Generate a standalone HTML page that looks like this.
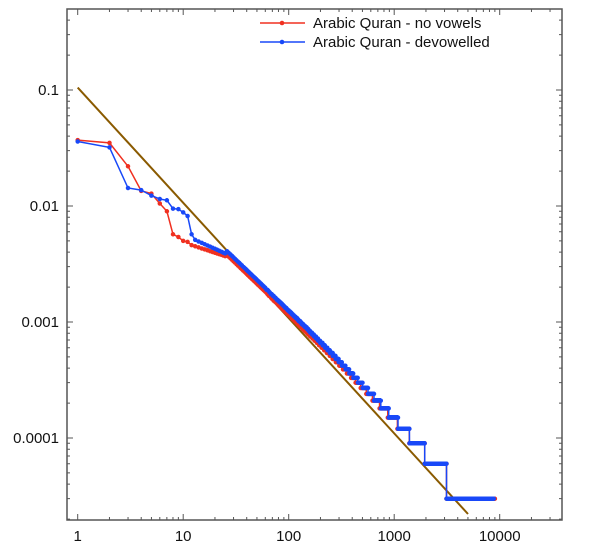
<!DOCTYPE html>
<html><head><meta charset="utf-8"><style>
html,body{margin:0;padding:0;background:#fff;}
svg{display:block;font-family:"Liberation Sans",sans-serif;}
</style></head><body>
<svg id="s" width="600" height="554" xmlns="http://www.w3.org/2000/svg"></svg>
<script>
var s=document.getElementById('s');var NS='http://www.w3.org/2000/svg';
function el(t,a,txt){var e=document.createElementNS(NS,t);for(var k in a)e.setAttribute(k,a[k]);if(txt!==undefined)e.textContent=txt;s.appendChild(e);return e;}
function px(r){return 77.7+105.5*Math.log10(r);}
function py(f){return 90-116*(Math.log10(f)+1);}
var L=67,R=562,T=9,B=520;
var d='';
for(var e=0;e<=4;e++){for(var m=1;m<10;m++){var v=m*Math.pow(10,e);var x=px(v);if(x<L||x>R)continue;var len=m==1?6:3;d+='M'+x+' '+B+'v-'+len+'M'+x+' '+T+'v'+len;}}
for(var e=-5;e<=-1;e++){for(var m=1;m<10;m++){var v=m*Math.pow(10,e);var y=py(v);if(y<T||y>B)continue;var len=m==1?6:3;d+='M'+L+' '+y+'h'+len+'M'+R+' '+y+'h-'+len;}}
el('path',{d:d,stroke:'#555','stroke-width':1,fill:'none'});
el('rect',{x:L,y:T,width:R-L,height:B-T,fill:'none',stroke:'#555','stroke-width':1.5});
var xl=[['1',1],['10',10],['100',100],['1000',1000],['10000',10000]];
xl.forEach(function(a){el('text',{x:px(a[1]),y:541,'font-size':15,'text-anchor':'middle',fill:'#111'},a[0]);});
var yl=[['0.1',0.1],['0.01',0.01],['0.001',0.001],['0.0001',0.0001]];
yl.forEach(function(a){el('text',{x:59,y:py(a[1])+5,'font-size':15,'text-anchor':'end',fill:'#111'},a[0]);});
el('line',{x1:px(1),y1:py(0.105),x2:468,y2:514,stroke:'#8a5a00','stroke-width':2});
var N=33333;
function series(head,mid,maxr,color,bump){
  var pts=[];var H=head.length;
  for(var r=1;r<=maxr;r++){
    var f;
    if(r<=H)f=head[r-1];
    else if(r<=25){var a=mid[0],b=mid[1];var t=(Math.log(r)-Math.log(H))/(Math.log(25)-Math.log(H));f=Math.exp(Math.log(a)*(1-t)+Math.log(b)*t);}
    else{var bb=r<150?bump:(r<1500?1+(bump-1)*(Math.log(1500/r)/Math.log(10)):1);f=0.0023*Math.pow(r/46,-0.87)*bb;}
    if(r>60){f=Math.floor(f*N+0.05)/N;if(f<1/N)f=1/N;}
    pts.push([px(r),py(f)]);
  }
  var p='M'+pts.map(function(q){return q[0].toFixed(1)+' '+q[1].toFixed(1);}).join('L');
  el('path',{d:p,stroke:color,'stroke-width':1.5,fill:'none'});
  var c='';pts.forEach(function(q){c+='M'+q[0].toFixed(1)+' '+q[1].toFixed(1)+'h0';});
  el('path',{d:c,stroke:color,'stroke-width':4.5,'stroke-linecap':'round',fill:'none'});
}
series([0.037,0.035,0.022,0.0135,0.0128,0.0105,0.009,0.0057,0.0054,0.005,0.0049,0.0046],[0.0046,0.0037],9000,'#f03020',1.0);
series([0.036,0.032,0.0143,0.0137,0.0123,0.0115,0.0112,0.0095,0.0094,0.0088,0.0082,0.0057,0.0051],[0.0051,0.0039],8800,'#1848f8',1.08);
el('line',{x1:260,y1:23,x2:305,y2:23,stroke:'#f03020','stroke-width':1.5});
el('circle',{cx:282,cy:23,r:2.3,fill:'#f03020'});
el('line',{x1:260,y1:42,x2:305,y2:42,stroke:'#1848f8','stroke-width':1.5});
el('circle',{cx:282,cy:42,r:2.3,fill:'#1848f8'});
el('text',{x:313,y:28,'font-size':15,fill:'#111'},'Arabic Quran - no vowels');
el('text',{x:313,y:47,'font-size':15,fill:'#111'},'Arabic Quran - devowelled');
</script>
</body></html>
